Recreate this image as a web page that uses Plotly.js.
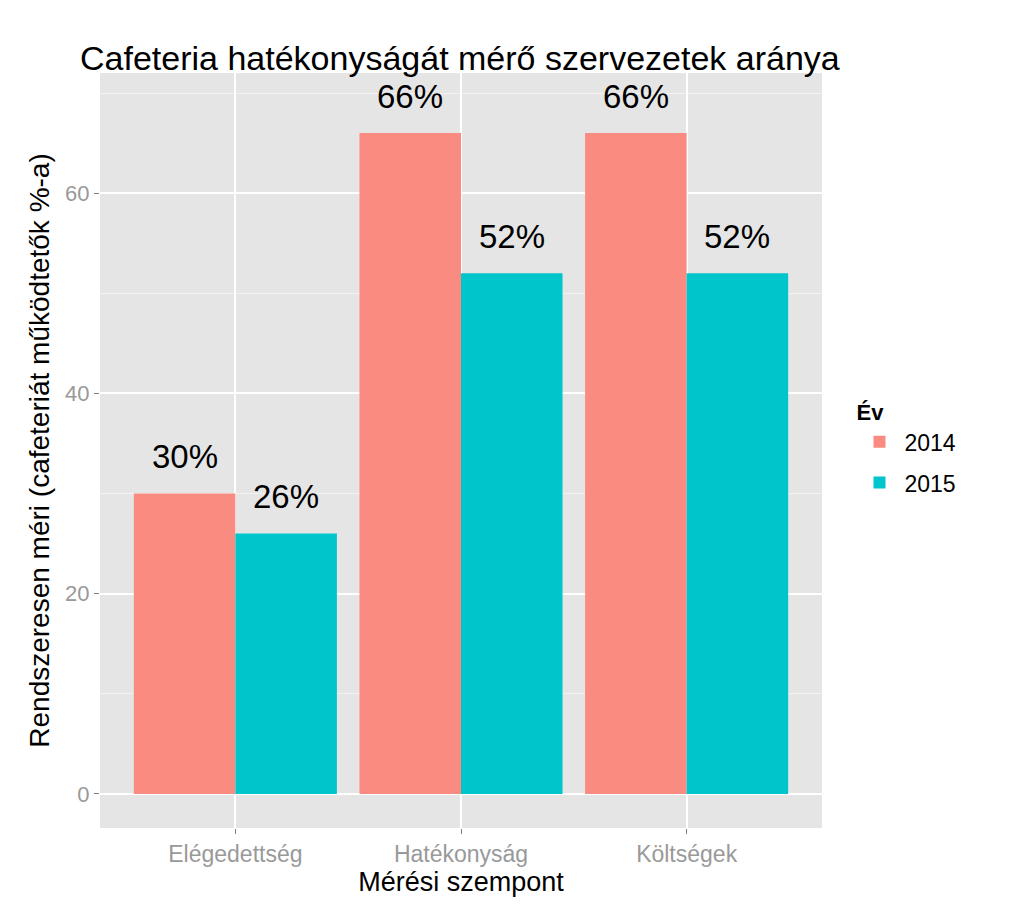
<!DOCTYPE html>
<html>
<head>
<meta charset="utf-8">
<script src="https://cdn.plot.ly/plotly-3.0.1.min.js"></script>
<style>html,body{margin:0;padding:0;background:#fff;}#chart{width:1024px;height:921px;}</style>
</head>
<body>
<div id="chart"></div>
<script>
const categories = ["Elégedettség", "Hatékonyság", "Költségek"];
const years = ["2014", "2015"];
const values2014 = [30, 66, 66];
const values2015 = [26, 52, 52];
const labels2014 = ["30%", "66%", "66%"];
const labels2015 = ["26%", "52%", "52%"];
const colors = ["#F98B81", "#00C6CC"];

const font = "Arial, 'Liberation Sans', sans-serif";
const series = [values2014, values2015];
const labels = [labels2014, labels2015];

const traces = series.map((vals, i) => ({
  type: "bar",
  name: years[i],
  legendgroup: years[i],
  x: categories,
  y: vals,
  marker: {color: colors[i], line: {width: 0}},
  hoverinfo: "skip"
}));

const annotations = [];
series.forEach((vals, i) => {
  vals.forEach((v, j) => {
    annotations.push({
      x: j + (i === 0 ? -0.225 : 0.225),
      y: v,
      xref: "x", yref: "y",
      text: labels[i][j],
      showarrow: false,
      yanchor: "middle",
      yshift: 37,
      font: {family: font, size: 33, color: "#000"}
    });
  });
});

const layout = {
  width: 1024, height: 921,
  margin: {l: 100, r: 202, t: 73, b: 93},
  paper_bgcolor: "#fff",
  plot_bgcolor: "#E5E5E5",
  barmode: "group",
  bargap: 0.1,
  bargroupgap: 0,
  title: {
    text: "Cafeteria hatékonyságát mérő szervezetek aránya",
    x: 80 / 1024, xanchor: "left", xref: "container",
    y: 1 - 58 / 921, yanchor: "middle", yref: "container",
    font: {family: font, size: 34, color: "#000"}
  },
  xaxis: {
    type: "category",
    range: [-0.6, 2.6],
    showgrid: true, gridcolor: "#fff", gridwidth: 2,
    ticks: "outside", ticklen: 5, tickcolor: "#7F7F7F", tickwidth: 1,
    tickfont: {family: font, size: 23, color: "#999999"},
    zeroline: false, showline: false,
    title: {text: "Mérési szempont", font: {family: font, size: 27, color: "#000"}, standoff: 5}
  },
  yaxis: {
    range: [-3.4, 72],
    tickvals: [0, 20, 40, 60],
    showgrid: true, gridcolor: "#fff", gridwidth: 2,
    minor: {tickvals: [10, 30, 50, 70], showgrid: true, gridcolor: "#F2F2F2", gridwidth: 1, ticks: ""},
    ticks: "outside", ticklen: 5, tickcolor: "#7F7F7F", tickwidth: 1,
    tickfont: {family: font, size: 22, color: "#999999"},
    zeroline: false, showline: false,
    title: {text: "Rendszeresen méri (cafeteriát működtetők %-a)", font: {family: font, size: 28, color: "#000"}, standoff: 7}
  },
  legend: {
    x: 1.045, xanchor: "left", y: 0.578, yanchor: "top",
    title: {text: "<b>Év</b>", font: {family: font, size: 22, color: "#000"}},
    font: {family: font, size: 23, color: "#000"},
    bgcolor: "rgba(0,0,0,0)",
    traceorder: "grouped",
    tracegroupgap: 8,
    itemwidth: 40
  },
  annotations: annotations,
  showlegend: true
};

Plotly.newPlot("chart", traces, layout, {displayModeBar: false, staticPlot: true});
</script>
</body>
</html>
